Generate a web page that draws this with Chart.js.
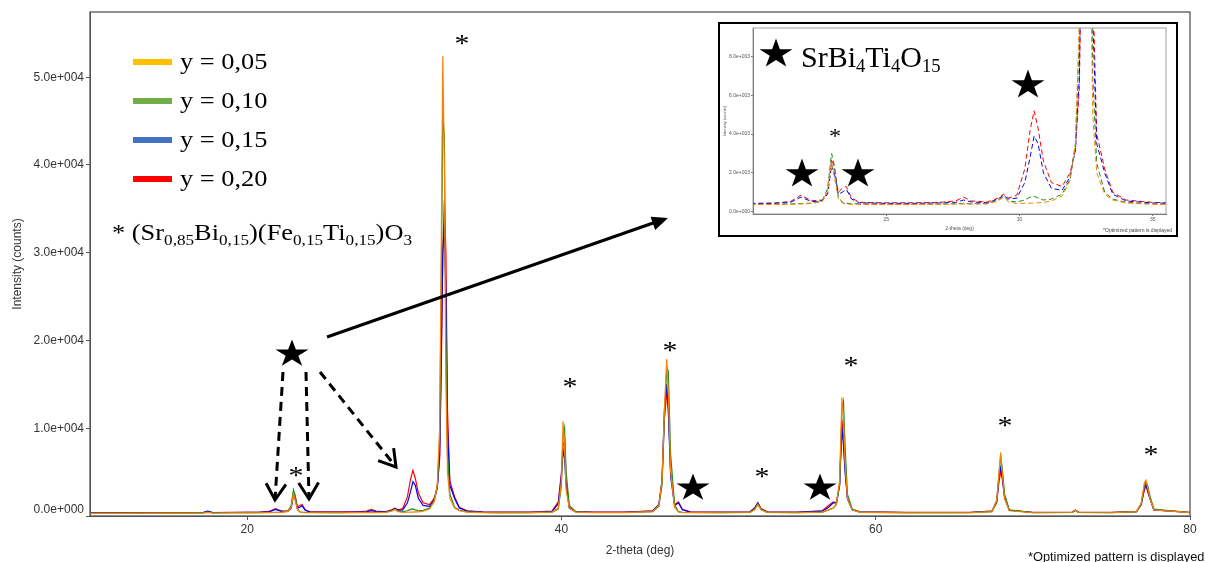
<!DOCTYPE html>
<html><head><meta charset="utf-8">
<script src="https://cdn.jsdelivr.net/npm/chart.js@4/dist/chart.umd.min.js"></script>
<style>
html,body{margin:0;padding:0;background:#fff;overflow:hidden}
#wrap{position:relative;width:1205px;height:562px}
#main{position:absolute;left:0;top:0}
#insetBox{position:absolute;left:718px;top:22px;width:460px;height:215px;border:2px solid #000;box-sizing:border-box;background:#fff}
#inset{position:absolute;left:0;top:0}
</style></head><body>
<div id="wrap"><canvas id="main" width="1205" height="562"></canvas>
<div id="insetBox"><canvas id="inset" width="456" height="211"></canvas></div></div>
<script>
// 2-theta positions (deg)
const xs = [
 10,12,14,16,17.2,17.5,17.8,19,20,20.8,
 21.4,21.8,22.2,22.6,22.8,22.95,23.05,23.2,23.35,23.5,23.7,24.0,
 25,26,27,27.6,27.9,28.2,28.8,29.2,29.4,29.6,29.9,
 30.2,30.4,30.55,30.7,30.9,31.2,31.6,31.9,
 32.1,32.25,32.35,32.45,32.55,32.65,32.75,32.9,33.2,33.5,34.0,
 35,36,38,39.4,39.8,40.0,40.1,40.2,40.3,40.5,40.9,42,44,
 45.8,46.2,46.4,46.55,46.7,46.8,46.95,47.2,47.45,47.7,48.2,50,
 52,52.3,52.5,52.7,53.1,55,56.6,57.0,57.3,57.5,
 57.7,57.85,57.95,58.05,58.2,58.5,59,62,66,
 67.4,67.7,67.85,67.95,68.05,68.2,68.5,70,
 72.5,72.7,72.9,75,76.6,76.9,77.1,77.2,77.3,77.45,77.7,80
];
// intensities (counts)
const y005 = [
 300,300,320,330,340,420,340,350,360,370,
 380,400,420,520,1000,2500,1800,700,450,400,380,370,
 370,370,380,390,400,390,400,550,750,500,420,
 430,440,450,460,480,550,800,1600,
 3500,10000,30000,52400,40000,15000,5000,2000,900,600,450,
 380,360,380,450,900,4000,10800,8000,3000,900,450,380,380,
 500,1200,4000,12000,17900,14000,5000,1000,450,400,380,370,
 400,700,1300,700,400,370,450,700,900,1400,
 4000,13500,11000,6000,2000,700,420,360,370,
 500,1800,5000,7200,5000,2000,600,370,
 400,650,400,370,500,1500,3800,4100,3300,2000,700,380
];
const y010 = [
 320,330,340,350,360,430,360,370,380,390,
 400,420,440,560,1200,3000,2400,800,480,430,410,400,
 390,390,400,410,420,410,420,600,800,550,500,
 600,750,800,700,600,650,900,1700,
 3500,9000,26000,46000,43000,20000,7000,2500,1000,650,480,
 400,380,390,450,800,3500,9000,10000,5000,1200,500,400,400,
 500,1100,3500,11000,17000,16500,7000,1300,500,420,400,380,
 420,800,1400,750,420,390,450,700,900,1300,
 3500,12000,13000,8000,2500,800,450,380,380,
 500,1700,4800,6800,5500,2500,700,380,
 400,650,400,380,500,1400,3500,3900,3500,2300,800,380
];
const y015 = [
 350,360,370,380,390,560,390,400,410,430,
 480,750,520,560,900,2400,2000,900,1000,1150,650,450,
 430,430,450,480,600,500,460,650,850,650,700,
 1500,2800,3900,3500,2000,1200,1100,1800,
 3200,7000,18000,30000,33000,25000,10000,3500,2000,900,550,
 450,420,420,500,1400,4500,7500,6500,3500,900,500,420,420,
 550,1300,4000,12000,15000,12000,4500,1200,1500,700,450,420,
 450,900,1500,800,450,420,550,1000,1500,1500,
 3500,10000,8000,5000,2000,700,450,400,400,
 550,1700,4500,5500,4500,2200,650,400,
 420,650,420,400,500,1400,3300,3600,3000,2000,700,400
];
const y020 = [
 350,370,380,390,400,520,400,420,430,450,
 520,850,560,600,1000,2700,2300,1000,1200,1300,700,480,
 460,460,480,550,750,550,500,700,900,700,850,
 2200,4200,5200,4300,2600,1500,1300,2000,
 3200,6500,16000,30000,36000,30000,12000,4000,2200,1000,600,
 480,450,450,550,1600,5000,8000,8500,4000,1000,500,450,450,
 600,1300,4000,11000,14000,12500,5000,1300,1600,750,480,450,
 480,950,1500,850,480,450,600,1200,1600,1500,
 3500,11000,9000,5500,2000,750,480,420,420,
 550,1500,4000,5000,4300,2000,650,420,
 440,650,440,420,500,1300,3000,3400,2800,2000,700,420
];
const seriesLabels = ['y = 0,05','y = 0,10','y = 0,15','y = 0,20'];
const xTicks = [20,40,60,80];
const yTicks = [0,10000,20000,30000,40000,50000];
const insetXTicks = [25,30,35];
const insetYTicks = [0,2000,4000,6000,8000];

const lineColors = ['#FF8000','#1E8C1E','#0000FF','#FF0000'];
const legendColors = ['#FFC000','#70AD47','#4472C4','#FF0000'];
const series = [y005,y010,y015,y020];
const SANS = 'Liberation Sans, Arial, sans-serif';
const SERIF = '"Liberation Serif", "Times New Roman", serif';

function pts(ys){ return xs.map((x,i)=>({x:x,y:ys[i]})); }
function fmtExp(v){
  const s = Number(v).toExponential(1).split('e');
  const sign = s[1][0]; const d = s[1].slice(1).padStart(3,'0');
  return s[0]+'e'+sign+d;
}
function centerText(ctx,t,cx,cy,font,sx){
  ctx.save(); ctx.font=font; ctx.textAlign='left'; ctx.textBaseline='alphabetic';
  const m=ctx.measureText(t);
  const h=m.actualBoundingBoxAscent+m.actualBoundingBoxDescent;
  const w=m.actualBoundingBoxLeft+m.actualBoundingBoxRight;
  ctx.translate(cx,cy); ctx.scale(sx||1,1);
  ctx.fillText(t,-w/2+m.actualBoundingBoxLeft,h/2-m.actualBoundingBoxDescent);
  ctx.restore();
}
function richText(ctx,parts,x,base,size,sx,subScale,subDrop){
  ctx.save(); ctx.translate(x,base); ctx.scale(sx,1);
  ctx.textAlign='left'; ctx.textBaseline='alphabetic';
  let cx=0;
  for(const [t,sub] of parts){
    const s=sub?size*subScale:size;
    ctx.font=s+'px '+SERIF;
    ctx.fillText(t,cx,sub?subDrop:0);
    cx+=ctx.measureText(t).width;
  }
  ctx.restore();
}
function drawStar(ctx,cx,cy,R,sx){
  ctx.save(); ctx.translate(cx,cy); ctx.scale(sx,1);
  ctx.beginPath();
  const r=R*0.382;
  for(let i=0;i<10;i++){
    const a=-Math.PI/2+i*Math.PI/5; const rr=i%2?r:R;
    const px=rr*Math.cos(a), py=rr*Math.sin(a);
    if(i===0) ctx.moveTo(px,py); else ctx.lineTo(px,py);
  }
  ctx.closePath(); ctx.fillStyle='#000'; ctx.fill(); ctx.restore();
}
function vHead(ctx,x1,y1,x2,y2,len,ang){
  const a=Math.atan2(y2-y1,x2-x1);
  ctx.beginPath();
  ctx.moveTo(x2-len*Math.cos(a-ang),y2-len*Math.sin(a-ang));
  ctx.lineTo(x2,y2);
  ctx.lineTo(x2-len*Math.cos(a+ang),y2-len*Math.sin(a+ang));
  ctx.stroke();
}

const mainAnno = {
  id:'mainAnno',
  afterDraw(chart){
    const ctx=chart.ctx, ca=chart.chartArea;
    ctx.save();
    ctx.strokeStyle='#555'; ctx.lineWidth=1.3;
    ctx.strokeRect(ca.left,ca.top,ca.right-ca.left,ca.bottom-ca.top);
    // zero tick label, lifted above the axis line as in the reference
    ctx.save();
    ctx.fillStyle='#333'; ctx.font='12px '+SANS; ctx.textAlign='right'; ctx.textBaseline='middle';
    ctx.fillText(fmtExp(yTicks[0]),ca.left-6,ca.bottom-6);
    ctx.restore();
    // legend
    const rows=[62,101,140,179];
    rows.forEach((ry,i)=>{
      ctx.strokeStyle=legendColors[i]; ctx.lineWidth=6; ctx.lineCap='butt';
      ctx.beginPath(); ctx.moveTo(133,ry); ctx.lineTo(172,ry); ctx.stroke();
      ctx.fillStyle='#000';
      richText(ctx,[[seriesLabels[i],0]],180,ry+7,24,1.1,0.65,5);
    });
    ctx.fillStyle='#000';
    richText(ctx,[['* (Sr',0],['0,85',1],['Bi',0],['0,15',1],[')(Fe',0],['0,15',1],['Ti',0],['0,15',1],[')O',0],['3',1]],112,240,24,1.1,0.65,5);
    // asterisks
    const ast=[[462,40],[296,472],[570,383],[670,347],[762,473],[851,362],[1005,422],[1151,451]];
    ast.forEach(p=>centerText(ctx,'*',p[0],p[1],'26px '+SERIF,1.15));
    // stars
    drawStar(ctx,292,354,14.5,1.2);
    drawStar(ctx,693,488,14.5,1.2);
    drawStar(ctx,820,488,14.5,1.2);
    // solid arrow
    ctx.strokeStyle='#000'; ctx.fillStyle='#000'; ctx.lineWidth=3; ctx.setLineDash([]);
    ctx.beginPath(); ctx.moveTo(327,337); ctx.lineTo(656,222); ctx.stroke();
    {
      const x1=327,y1=337,x2=668,y2=218; const a=Math.atan2(y2-y1,x2-x1);
      ctx.beginPath(); ctx.moveTo(x2,y2);
      ctx.lineTo(x2-16*Math.cos(a)+7*Math.sin(a), y2-16*Math.sin(a)-7*Math.cos(a));
      ctx.lineTo(x2-16*Math.cos(a)-7*Math.sin(a), y2-16*Math.sin(a)+7*Math.cos(a));
      ctx.closePath(); ctx.fill();
    }
    // dashed arrows
    const dash=[[283,372,275,500],[306,372,309,499],[320,372,396,467]];
    ctx.lineWidth=3;
    dash.forEach(d=>{
      ctx.setLineDash([9,6]);
      ctx.beginPath(); ctx.moveTo(d[0],d[1]); ctx.lineTo(d[2],d[3]); ctx.stroke();
      ctx.setLineDash([]);
      vHead(ctx,d[0],d[1],d[2],d[3],19,0.55);
    });
    // footnote
    ctx.fillStyle='#111'; ctx.font='12.8px '+SANS; ctx.textAlign='left'; ctx.textBaseline='alphabetic';
    ctx.fillText('*Optimized pattern is displayed',1028,561);
    ctx.restore();
  }
};

new Chart(document.getElementById('main'),{
  type:'line',
  data:{datasets:series.map((ys,i)=>({label:seriesLabels[i],data:pts(ys),borderColor:lineColors[i],borderWidth:1.2,pointRadius:0,fill:false,tension:0}))},
  options:{
    responsive:false, animation:false, devicePixelRatio:1,
    layout:{padding:{top:12,right:15,left:0,bottom:0}},
    plugins:{legend:{display:false},tooltip:{enabled:false}},
    scales:{
      x:{type:'linear',min:10,max:80,
        afterBuildTicks:s=>{s.ticks=xTicks.map(v=>({value:v}));},
        afterFit:s=>{s.height=46;},
        grid:{drawOnChartArea:false,tickLength:4,color:'#555'},
        border:{color:'#555'},
        ticks:{font:{family:SANS,size:12},color:'#333',padding:2,maxRotation:0,autoSkip:false},
        title:{display:true,text:'2-theta (deg)',font:{family:SANS,size:12},color:'#333',padding:{top:0,bottom:4}}},
      y:{type:'linear',min:0,max:57430,
        afterBuildTicks:s=>{s.ticks=yTicks.map(v=>({value:v}));},
        afterFit:s=>{s.width=90;},
        grid:{drawOnChartArea:false,tickLength:4,color:'#555'},
        border:{color:'#555'},
        ticks:{font:{family:SANS,size:12},color:'#333',padding:2,callback:v=>(v===yTicks[0]?'':fmtExp(v))},
        title:{display:true,text:'Intensity (counts)',font:{family:SANS,size:12},color:'#333',padding:{top:10,bottom:0}}}
    }
  },
  plugins:[mainAnno]
});

const insetAnno = {
  id:'insetAnno',
  afterDraw(chart){
    const ctx=chart.ctx, ca=chart.chartArea;
    ctx.save();
    ctx.strokeStyle='#888'; ctx.lineWidth=0.8;
    ctx.strokeRect(ca.left,ca.top,ca.right-ca.left,ca.bottom-ca.top);
    ctx.translate(-720,-24);
    ctx.fillStyle='#000';
    drawStar(ctx,776,54,15.5,1.12);
    richText(ctx,[['SrBi',0],['4',1],['Ti',0],['4',1],['O',0],['15',1]],801,67,30,1,0.62,5);
    drawStar(ctx,802,174,15.5,1.12);
    drawStar(ctx,858,174,15.5,1.12);
    drawStar(ctx,1028,85,15.5,1.12);
    centerText(ctx,'*',835,133,'22px '+SERIF,1.1);
    ctx.fillStyle='#444'; ctx.font='5px '+SANS; ctx.textAlign='right'; ctx.textBaseline='alphabetic';
    ctx.fillText('*Optimized pattern is displayed',1172,232);
    ctx.restore();
  }
};

new Chart(document.getElementById('inset'),{
  type:'line',
  data:{datasets:series.map((ys,i)=>({label:seriesLabels[i],data:pts(ys),borderColor:lineColors[i],borderWidth:1,borderDash:[5,3],pointRadius:0,fill:false,tension:0}))},
  options:{
    responsive:false, animation:false, devicePixelRatio:1,
    layout:{padding:{top:3,right:10,left:0,bottom:0}},
    plugins:{legend:{display:false},tooltip:{enabled:false}},
    scales:{
      x:{type:'linear',min:20,max:35.5,
        afterBuildTicks:s=>{s.ticks=insetXTicks.map(v=>({value:v}));},
        afterFit:s=>{s.height=21;},
        grid:{drawOnChartArea:false,tickLength:2,color:'#777'},
        border:{color:'#777'},
        ticks:{font:{family:SANS,size:5},color:'#555',padding:1,maxRotation:0,autoSkip:false},
        title:{display:true,text:'2-theta (deg)',font:{family:SANS,size:5},color:'#555',padding:{top:0,bottom:3}}},
      y:{type:'linear',min:-120,max:9470,
        afterBuildTicks:s=>{s.ticks=insetYTicks.map(v=>({value:v}));},
        afterFit:s=>{s.width=33;},
        grid:{drawOnChartArea:false,tickLength:2,color:'#777'},
        border:{color:'#777'},
        ticks:{font:{family:SANS,size:5},color:'#555',padding:1,callback:v=>fmtExp(v)},
        title:{display:true,text:'Intensity (counts)',font:{family:SANS,size:4},color:'#555',padding:{top:2,bottom:0}}}
    }
  },
  plugins:[insetAnno]
});
</script>
</body></html>
